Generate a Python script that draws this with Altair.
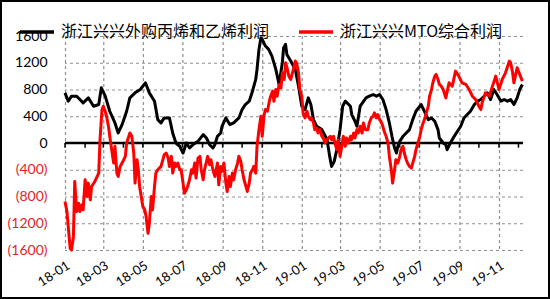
import altair as alt
import pandas as pd

# ---- data (day offset from 2018-01-01, profit value) ----
black_name = "浙江兴兴外购丙烯和乙烯利润"
red_name = "浙江兴兴MTO综合利润"

black_days = [0, 5, 10, 18, 23, 28, 36, 44, 52, 56, 62, 69, 77, 82, 88, 95, 100, 108, 116, 124,
              130, 138, 143, 148, 153, 161, 166, 171, 177, 182, 187, 192, 197, 205, 213, 218, 223,
              228, 231, 235, 240, 242, 248, 254, 260, 268, 273, 278, 284, 289, 294, 296, 299, 302,
              304, 309, 314, 319, 325, 330, 335, 337, 340, 342, 348, 355, 360, 365, 370, 375, 379,
              383, 388, 396, 404, 408, 411, 415, 419, 424, 428, 432, 440, 442, 447, 450, 455, 464,
              469, 475, 480, 485, 490, 495, 500, 504, 508, 511, 513, 516, 521, 526, 531, 536, 541,
              547, 549, 554, 560, 565, 570, 575, 577, 583, 587, 589, 594, 600, 605, 610, 615, 620,
              625, 631, 636, 641, 646, 651, 656, 661, 666, 672, 677, 682, 687, 692, 697, 701, 705]
black_vals = [750, 625, 700, 700, 650, 600, 675, 550, 575, 825, 700, 475, 300, 150, 275, 475, 675,
              750, 800, 900, 750, 625, 350, 300, 375, 375, 150, 0, -50, -150, 0, -75, -25, 25, 125,
              75, -25, -75, -25, 100, 150, 250, 375, 275, 300, 375, 500, 575, 625, 775, 950, 1100,
              1400, 1575, 1550, 1450, 1400, 1300, 1100, 875, 1200, 1425, 1475, 1325, 1225, 1100,
              850, 550, 500, 675, 575, 350, 250, 200, 50, -200, -350, -275, -100, 200, 550, 625,
              550, 425, 325, 250, 550, 675, 700, 725, 700, 725, 650, 500, 300, 100, -75, -150, -50,
              25, 100, 150, 200, 350, 475, 550, 575, 475, 350, 375, 325, 200, 75, 0, -25, -100, 0,
              100, 175, 250, 375, 425, 475, 575, 625, 650, 700, 750, 650, 800, 725, 625, 650, 625,
              650, 575, 675, 800, 875]

red_days = [0, 3, 8, 10, 13, 15, 18, 21, 23, 26, 28, 31, 34, 36, 39, 41, 46, 52, 54, 57, 59, 62,
            64, 67, 69, 72, 75, 77, 80, 82, 85, 88, 93, 95, 100, 103, 106, 108, 111, 113, 115, 120,
            123, 125, 128, 130, 133, 135, 138, 140, 143, 148, 153, 156, 159, 161, 164, 166, 169,
            171, 174, 177, 179, 182, 184, 187, 189, 192, 195, 197, 200, 202, 205, 208, 210, 213,
            215, 220, 223, 225, 228, 231, 233, 235, 237, 240, 242, 245, 248, 250, 253, 255, 258,
            260, 263, 266, 268, 271, 273, 276, 279, 281, 284, 286, 289, 291, 294, 296, 299, 302,
            304, 307, 309, 312, 315, 317, 320, 322, 325, 327, 330, 333, 335, 338, 340, 343, 345,
            348, 352, 355, 357, 360, 362, 365, 367, 370, 373, 375, 378, 380, 383, 385, 388, 390,
            393, 396, 398, 401, 404, 406, 409, 411, 414, 416, 419, 421, 424, 427, 429, 432, 434,
            437, 440, 442, 445, 447, 450, 452, 455, 458, 460, 463, 467, 469, 472, 475, 477, 480,
            482, 485, 487, 490, 492, 495, 498, 500, 503, 505, 508, 510, 513, 516, 518, 521, 523,
            526, 528, 531, 534, 536, 539, 541, 544, 547, 549, 552, 554, 557, 560, 562, 565, 567,
            570, 572, 575, 577, 580, 583, 587, 592, 597, 602, 607, 612, 618, 623, 628, 633, 638,
            641, 643, 648, 654, 659, 664, 669, 674, 679, 685, 687, 690, 692, 697, 700, 705]
red_vals = [-875, -1025, -1575, -1600, -1400, -575, -1025, -900, -1025, -925, -1000, -550, -800,
            -600, -850, -650, -575, -450, 50, 500, 550, 475, 400, 250, 100, -100, -300, -50, -450,
            -500, -350, -300, -200, 0, 150, 100, -150, -600, -250, -400, -650, -950, -1000, -1100,
            -1350, -1200, -800, -1000, -650, -450, -400, -350, -175, -150, -225, -350, -200, -450,
            -300, -350, -300, -400, -400, -600, -750, -700, -650, -550, -400, -450, -300, -525,
            -225, -200, -400, -550, -400, -200, -325, -250, -400, -500, -400, -300, -625, -350,
            -425, -300, -600, -725, -500, -650, -450, -550, -400, -300, -200, -275, -400, -550,
            -650, -725, -600, -450, -400, -350, -450, -50, 200, 400, 100, 425, 500, 475, 625, 700,
            775, 625, 800, 700, 875, 825, 1050, 950, 1200, 1100, 1000, 950, 1100, 1225, 1200, 1050,
            800, 700, 450, 375, 475, 400, 350, 375, 300, 200, 225, 150, 200, 100, 75, 0, 50, 75,
            100, 50, 100, 0, -100, 50, -200, -25, 100, -50, 75, 0, 100, 50, 150, 75, 200, 150, 250,
            150, 300, 200, 200, 300, 375, 400, 450, 375, 425, 350, 325, 250, 175, 100, 0, -200,
            -400, -600, -400, -250, -300, -200, -100, -50, -150, -250, -300, -350, -375, -300,
            -200, -100, 0, 100, 200, 300, 350, 450, 550, 700, 800, 900, 1000, 1025, 950, 875, 850,
            800, 675, 900, 850, 1075, 1000, 900, 875, 800, 700, 650, 550, 500, 600, 750, 700, 850,
            1000, 800, 950, 1050, 1225, 1200, 1050, 900, 1125, 1050, 925]

tick_months = ["2018-01", "2018-03", "2018-05", "2018-07", "2018-09", "2018-11",
               "2019-01", "2019-03", "2019-05", "2019-07", "2019-09", "2019-11"]
minor_months = ["2018-%02d" % m for m in range(1, 13)] + ["2019-%02d" % m for m in range(1, 13)]
y_ticks = [-1600, -1200, -800, -400, 0, 400, 800, 1200, 1600]

# ---- build table ----
base_day = pd.Timestamp("2018-01-01")
df = pd.concat([
    pd.DataFrame({"date": base_day + pd.to_timedelta(black_days, unit="D"),
                  "value": black_vals, "series": black_name}),
    pd.DataFrame({"date": base_day + pd.to_timedelta(red_days, unit="D"),
                  "value": red_vals, "series": red_name}),
], ignore_index=True)


def dt(s):
    y, m = s.split("-")
    return alt.DateTime(year=int(y), month=int(m), date=1)


x_domain = [alt.DateTime(year=2018, month=1, date=1), alt.DateTime(year=2019, month=12, date=8)]
x_scale = alt.Scale(domain=x_domain, nice=False)
y_scale = alt.Scale(domain=[-1600, 1600], nice=False)

W, H = 458, 214
PAD = {"left": 65, "top": 36, "right": 27, "bottom": 49}
GRID = "#909090"

x_axis = alt.Axis(values=[dt(s) for s in tick_months], format="%y-%m", title=None,
                  labelAngle=-33, labelAlign="right", labelBaseline="top",
                  labelPadding=9, labelOverlap=False)
y_axis = alt.Axis(values=y_ticks, title=None,
                  labelExpr="datum.value < 0 ? '(' + format(-datum.value, 'd') + ')' : format(datum.value, 'd')",
                  labelColor=alt.condition("datum.value < 0", alt.value("#e3242b"), alt.value("#000000")),
                  labelFontSize=14, labelPadding=18, labelOverlap=False)

# grid drawn as dashed rules through the shared scales (half-pixel offset keeps them crisp)
hgrid_df = pd.DataFrame({"gy": y_ticks})
hgrid = alt.Chart(hgrid_df).mark_rule(color=GRID, strokeWidth=1.2, strokeDash=[3, 3],
                                      yOffset=0.5).encode(
    y=alt.Y("gy:Q", scale=y_scale, axis=y_axis))
vgrid_df = pd.DataFrame({"gx": [pd.Timestamp(s + "-01") for s in tick_months]})
vgrid = alt.Chart(vgrid_df).mark_rule(color=GRID, strokeWidth=1.2, strokeDash=[3, 3],
                                      xOffset=0.5).encode(
    x=alt.X("gx:T", scale=x_scale, axis=x_axis))

lines = alt.Chart(df).mark_line(strokeWidth=3, strokeJoin="round").encode(
    x=alt.X("date:T", scale=x_scale, axis=x_axis),
    y=alt.Y("value:Q", scale=y_scale, axis=y_axis),
    color=alt.Color("series:N",
                    scale=alt.Scale(domain=[black_name, red_name], range=["#000000", "#ff0000"]),
                    legend=alt.Legend(orient="none", legendX=-47, legendY=-23, direction="horizontal",
                                      title=None, symbolType="stroke", symbolStrokeWidth=3.5,
                                      symbolSize=1156, labelFont="Noto Sans CJK SC",
                                      labelFontSize=16, labelOffset=5, columnPadding=22,
                                      labelLimit=400, labelColor="#000000")),
)

zero_df = pd.DataFrame({"value": [0]})
zero = alt.Chart(zero_df).mark_rule(color="#000000", strokeWidth=2.5).encode(
    y=alt.Y("value:Q", scale=y_scale, axis=y_axis))

tick_df = pd.DataFrame({"date": [pd.Timestamp(s + "-01") for s in minor_months],
                        "y0": 0, "y1": -70})
ticks = alt.Chart(tick_df).mark_rule(color="#000000", strokeWidth=1.5).encode(
    x=alt.X("date:T", scale=x_scale, axis=x_axis),
    y=alt.Y("y0:Q", scale=y_scale, axis=y_axis),
    y2="y1:Q",
)

frame = alt.Chart(zero_df).mark_rect(fill="transparent", stroke="#000000", strokeWidth=2).encode(
    x=alt.value(-64), x2=alt.value(W + PAD["right"] - 1),
    y=alt.value(-PAD["top"] + 1), y2=alt.value(H + PAD["bottom"] - 1),
)

chart = alt.layer(hgrid, vgrid, zero, ticks, lines, frame).properties(
    width=W, height=H, autosize=alt.AutoSizeParams(type="none"), padding=PAD,
    background="#ffffff",
).configure_view(stroke=None).configure_axis(
    grid=False, ticks=False, domain=False, labelFont="Lato", labelColor="#000000",
).configure_axisX(labelFontSize=13).configure_axisY(labelFontSize=14)

chart.save("out.html", embed_options={"renderer": "svg", "actions": False})
